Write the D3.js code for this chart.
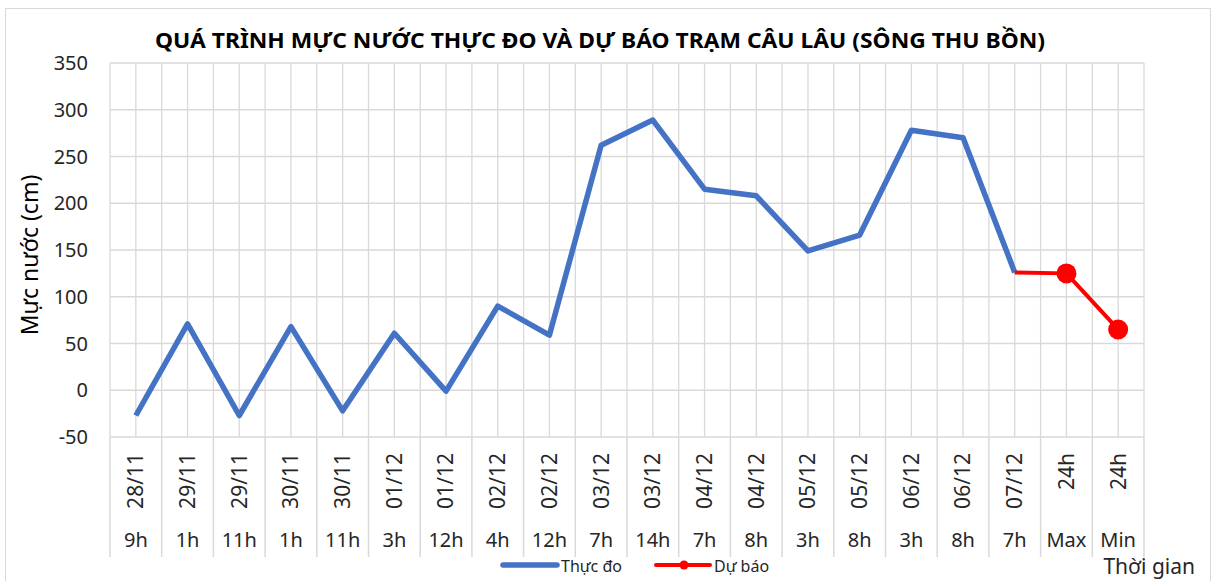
<!DOCTYPE html>
<html>
<head>
<meta charset="utf-8">
<script src="https://cdn.jsdelivr.net/npm/d3@7"></script>
<style>
  body { margin: 0; background: #fff; }
  text { font-family: "Noto Sans", "Open Sans", sans-serif; }
</style>
</head>
<body>
<div id="chart"></div>
<script>
// category labels (two levels: date on top, hour below)
var dateLabels = ["28/11", "29/11", "29/11", "30/11", "30/11", "01/12", "01/12", "02/12", "02/12", "03/12",
                  "03/12", "04/12", "04/12", "05/12", "05/12", "06/12", "06/12", "07/12", "24h", "24h"];
var hourLabels = ["9h", "1h", "11h", "1h", "11h", "3h", "12h", "4h", "12h", "7h",
                  "14h", "7h", "8h", "3h", "8h", "3h", "8h", "7h", "Max", "Min"];

// water level, measured (cm)
var observed = [-27, 71, -27, 68, -22, 61, -1, 90, 59, 262,
                289, 215, 208, 149, 166, 278, 270, 126, null, null];
// water level, forecast (cm)
var forecast = [null, null, null, null, null, null, null, null, null, null,
                null, null, null, null, null, null, null, 126, 125, 65];

var yTicks = [-50, 0, 50, 100, 150, 200, 250, 300, 350];

var svgWidth = 1217;
var svgHeight = 581;

var plot = { left: 110, right: 1144, top: 63, bottom: 437 };

var svg = d3.select("#chart")
    .append("svg")
    .attr("width", svgWidth)
    .attr("height", svgHeight);

// chart frame
svg.append("rect")
    .attr("x", 5.5)
    .attr("y", 8.5)
    .attr("width", 1205)
    .attr("height", 590)
    .attr("fill", "#fff")
    .attr("stroke", "#d9d9d9");

// scales
var x = d3.scaleBand()
    .domain(d3.range(hourLabels.length))
    .range([plot.left, plot.right])
    .padding(0);
var bw = x.bandwidth();
var cx = function(i) { return x(i) + bw / 2; };

var y = d3.scaleLinear()
    .domain([-50, 350])
    .range([plot.bottom, plot.top]);

// horizontal gridlines
svg.append("g")
    .selectAll("line")
    .data(yTicks)
    .enter()
    .append("line")
    .attr("x1", plot.left)
    .attr("x2", plot.right)
    .attr("y1", d => y(d))
    .attr("y2", d => y(d))
    .attr("stroke", "#d9d9d9")
    .attr("stroke-width", 1.3);

// vertical gridlines at category edges and centres
var vLines = [];
d3.range(hourLabels.length).forEach(function(i) {
    vLines.push(x(i));
    vLines.push(cx(i));
});
vLines.push(plot.right);

svg.append("g")
    .selectAll("line")
    .data(vLines)
    .enter()
    .append("line")
    .attr("x1", d => d)
    .attr("x2", d => d)
    .attr("y1", plot.top)
    .attr("y2", plot.bottom)
    .attr("stroke", "#d9d9d9")
    .attr("stroke-width", 1.3);

// y axis labels
svg.append("g")
    .selectAll("text")
    .data(yTicks)
    .enter()
    .append("text")
    .attr("x", 88)
    .attr("y", d => y(d))
    .attr("dy", "0.35em")
    .attr("text-anchor", "end")
    .attr("font-size", 20)
    .attr("fill", "#262626")
    .text(d => d);

// category box separators
var sepX = d3.range(hourLabels.length).map(i => x(i)).concat([plot.right]);
svg.append("g")
    .selectAll("line")
    .data(sepX)
    .enter()
    .append("line")
    .attr("x1", d => d)
    .attr("x2", d => d)
    .attr("y1", plot.bottom)
    .attr("y2", 557)
    .attr("stroke", "#d9d9d9")
    .attr("stroke-width", 1.5);

// rotated date labels
svg.append("g")
    .selectAll("text")
    .data(dateLabels)
    .enter()
    .append("text")
    .attr("transform", (d, i) => "translate(" + cx(i) + ",453) rotate(-90)")
    .attr("dy", "0.35em")
    .attr("text-anchor", "end")
    .attr("font-size", 21)
    .attr("fill", "#262626")
    .text(d => d);

// hour labels
svg.append("g")
    .selectAll("text")
    .data(hourLabels)
    .enter()
    .append("text")
    .attr("x", (d, i) => cx(i))
    .attr("y", 540)
    .attr("dy", "0.35em")
    .attr("text-anchor", "middle")
    .attr("font-size", 20)
    .attr("fill", "#262626")
    .text(d => d);

// lines
var lineGen = d3.line()
    .defined(d => d != null)
    .x((d, i) => cx(i))
    .y(d => y(d));

svg.append("path")
    .datum(observed)
    .attr("d", lineGen)
    .attr("fill", "none")
    .attr("stroke", "#4472c4")
    .attr("stroke-width", 5.5)
    .attr("stroke-linejoin", "round");

svg.append("path")
    .datum(forecast)
    .attr("d", lineGen)
    .attr("fill", "none")
    .attr("stroke", "#ff0000")
    .attr("stroke-width", 4)
    .attr("stroke-linejoin", "round");

// forecast markers (Max and Min only)
var markerData = forecast.map((v, i) => ({ v: v, i: i }))
    .filter(d => d.v != null && hourLabels[d.i] !== "7h");
svg.append("g")
    .selectAll("circle")
    .data(markerData)
    .enter()
    .append("circle")
    .attr("cx", d => cx(d.i))
    .attr("cy", d => y(d.v))
    .attr("r", 10)
    .attr("fill", "#ff0000");

// title
svg.append("text")
    .attr("x", 600)
    .attr("y", 41)
    .attr("dy", "0.35em")
    .attr("text-anchor", "middle")
    .attr("font-size", 21)
    .attr("font-weight", "bold")
    .attr("fill", "#000")
    .attr("textLength", 890)
    .attr("lengthAdjust", "spacingAndGlyphs")
    .text("QUÁ TRÌNH MỰC NƯỚC THỰC ĐO VÀ DỰ BÁO TRẠM CÂU LÂU (SÔNG THU BỒN)");

// y axis title
svg.append("text")
    .attr("transform", "translate(30,255) rotate(-90)")
    .attr("dy", "0.35em")
    .attr("text-anchor", "middle")
    .attr("font-size", 23)
    .attr("fill", "#000")
    .text("Mực nước (cm)");

// x axis title
svg.append("text")
    .attr("x", 1195)
    .attr("y", 567)
    .attr("dy", "0.35em")
    .attr("text-anchor", "end")
    .attr("font-size", 21)
    .attr("fill", "#262626")
    .text("Thời gian");

// legend
var legend = svg.append("g");
legend.append("line")
    .attr("x1", 503).attr("x2", 557)
    .attr("y1", 565).attr("y2", 565)
    .attr("stroke", "#4472c4")
    .attr("stroke-width", 5.5)
    .attr("stroke-linecap", "round");
legend.append("text")
    .attr("x", 561).attr("y", 566)
    .attr("dy", "0.35em")
    .attr("font-size", 16)
    .attr("fill", "#262626")
    .text("Thực đo");
legend.append("line")
    .attr("x1", 656).attr("x2", 710)
    .attr("y1", 565).attr("y2", 565)
    .attr("stroke", "#ff0000")
    .attr("stroke-width", 4)
    .attr("stroke-linecap", "round");
legend.append("circle")
    .attr("cx", 684).attr("cy", 565)
    .attr("r", 4.5)
    .attr("fill", "#ff0000");
legend.append("text")
    .attr("x", 714).attr("y", 566)
    .attr("dy", "0.35em")
    .attr("font-size", 16)
    .attr("fill", "#262626")
    .text("Dự báo");
</script>
</body>
</html>
